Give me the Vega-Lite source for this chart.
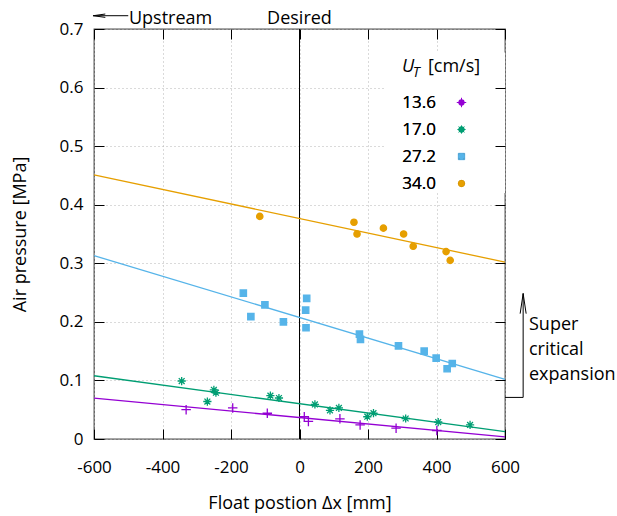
{
  "$schema": "https://vega.github.io/schema/vega-lite/v6.json",
  "width": 411,
  "height": 410,
  "autosize": {"type": "none"},
  "padding": {"left": 94, "top": 29, "right": 112, "bottom": 77},
  "background": "white",
  "config": {
    "font": "Open Sans",
    "view": {"stroke": "#505050", "strokeWidth": 1.3},
    "axis": {
      "labelFont": "Open Sans",
      "labelFontSize": 17,
      "labelColor": "black",
      "labelFlush": false,
      "titleFont": "Open Sans",
      "titleFontSize": 18,
      "titleFontWeight": "normal",
      "titleColor": "black",
      "tickColor": "black",
      "tickWidth": 1,
      "tickSize": -10,
      "domain": false,
      "gridColor": "#b4b4b4",
      "gridDash": [1, 3],
      "gridWidth": 1
    },
    "legend": {
      "orient": "none",
      "legendX": 287,
      "legendY": 65,
      "labelFont": "Open Sans",
      "labelFontSize": 17,
      "labelColor": "black",
      "labelAlign": "right",
      "labelOffset": -34,
      "symbolOffset": 72,
      "symbolSize": 40,
      "symbolStrokeWidth": 1,
      "rowPadding": 9,
      "labelLimit": 0
    }
  },
  "datasets": {
    "measured": [
      {"U": "13.6", "x": -331, "p": 0.050},
      {"U": "13.6", "x": -195, "p": 0.053},
      {"U": "13.6", "x": -94, "p": 0.044},
      {"U": "13.6", "x": 14, "p": 0.038},
      {"U": "13.6", "x": 26, "p": 0.030},
      {"U": "13.6", "x": 118, "p": 0.0345},
      {"U": "13.6", "x": 177, "p": 0.024},
      {"U": "13.6", "x": 282, "p": 0.0185},
      {"U": "13.6", "x": 401, "p": 0.0145},
      {"U": "17.0", "x": -344, "p": 0.099},
      {"U": "17.0", "x": -269, "p": 0.064},
      {"U": "17.0", "x": -250, "p": 0.084},
      {"U": "17.0", "x": -244, "p": 0.079},
      {"U": "17.0", "x": -85, "p": 0.074},
      {"U": "17.0", "x": -60, "p": 0.070},
      {"U": "17.0", "x": 45, "p": 0.059},
      {"U": "17.0", "x": 89, "p": 0.049},
      {"U": "17.0", "x": 115, "p": 0.053},
      {"U": "17.0", "x": 198, "p": 0.038},
      {"U": "17.0", "x": 216, "p": 0.044},
      {"U": "17.0", "x": 310, "p": 0.035},
      {"U": "17.0", "x": 405, "p": 0.029},
      {"U": "17.0", "x": 498, "p": 0.024},
      {"U": "27.2", "x": -164, "p": 0.249},
      {"U": "27.2", "x": -142, "p": 0.209},
      {"U": "27.2", "x": -101, "p": 0.229},
      {"U": "27.2", "x": -47, "p": 0.200},
      {"U": "27.2", "x": 18, "p": 0.220},
      {"U": "27.2", "x": 21, "p": 0.240},
      {"U": "27.2", "x": 19, "p": 0.190},
      {"U": "27.2", "x": 175, "p": 0.179},
      {"U": "27.2", "x": 178, "p": 0.170},
      {"U": "27.2", "x": 289, "p": 0.159},
      {"U": "27.2", "x": 364, "p": 0.150},
      {"U": "27.2", "x": 399, "p": 0.138},
      {"U": "27.2", "x": 431, "p": 0.120},
      {"U": "27.2", "x": 446, "p": 0.129},
      {"U": "34.0", "x": -116, "p": 0.380},
      {"U": "34.0", "x": 159, "p": 0.370},
      {"U": "34.0", "x": 168, "p": 0.350},
      {"U": "34.0", "x": 245, "p": 0.360},
      {"U": "34.0", "x": 304, "p": 0.350},
      {"U": "34.0", "x": 332, "p": 0.329},
      {"U": "34.0", "x": 428, "p": 0.320},
      {"U": "34.0", "x": 440, "p": 0.305}
    ],
    "fits": [
      {"U": "13.6", "x": -600, "p": 0.0697},
      {"U": "13.6", "x": 600, "p": 0.0035},
      {"U": "17.0", "x": -600, "p": 0.108},
      {"U": "17.0", "x": 600, "p": 0.0125},
      {"U": "27.2", "x": -600, "p": 0.313},
      {"U": "27.2", "x": 600, "p": 0.102},
      {"U": "34.0", "x": -600, "p": 0.451},
      {"U": "34.0", "x": 600, "p": 0.302}
    ],
    "single": [{}]
  },
  "layer": [
    {
      "layer": [
        {
          "data": {"name": "single"},
          "mark": {"type": "rect", "fill": "white"},
          "encoding": {
            "x": {"datum": 250, "type": "quantitative", "scale": {"domain": [-600, 600], "nice": false}},
            "x2": {"datum": 600},
            "y": {"datum": 0.42, "type": "quantitative", "scale": {"domain": [0, 0.7], "nice": false}},
            "y2": {"datum": 0.66}
          }
        },
        {
          "data": {"name": "single"},
          "mark": {"type": "rule", "color": "black", "strokeWidth": 1},
          "encoding": {
            "x": {"datum": 0, "type": "quantitative", "scale": {"domain": [-600, 600], "nice": false}}
          }
        },
        {
          "data": {"name": "fits"},
          "mark": {"type": "line", "strokeWidth": 1.3},
          "encoding": {
            "x": {"field": "x", "type": "quantitative", "scale": {"domain": [-600, 600], "nice": false}},
            "y": {"field": "p", "type": "quantitative", "scale": {"domain": [0, 0.7], "nice": false}},
            "color": {
              "field": "U",
              "type": "nominal",
              "scale": {"domain": ["13.6", "17.0", "27.2", "34.0"], "range": ["#9400d3", "#009e73", "#56b4e9", "#e69f00"]},
              "legend": null
            }
          }
        },
        {
          "data": {"name": "measured"},
          "mark": {"type": "point", "filled": true, "size": 40, "strokeWidth": 1.3, "opacity": 1},
          "encoding": {
            "x": {
              "field": "x",
              "type": "quantitative",
              "scale": {"domain": [-600, 600], "nice": false},
              "axis": {
                "title": "Float postion Δx [mm]",
                "values": [-600, -400, -200, 0, 200, 400, 600],
                "labelExpr": "'' + datum.value",
                "labelPadding": 30,
                "titlePadding": 19,
                "grid": true
              }
            },
            "y": {
              "field": "p",
              "type": "quantitative",
              "scale": {"domain": [0, 0.7], "nice": false},
              "axis": {
                "title": "Air pressure [MPa]",
                "values": [0, 0.1, 0.2, 0.3, 0.4, 0.5, 0.6, 0.7],
                "labelExpr": "datum.value == 0 ? '0' : format(datum.value, '.1f')",
                "labelPadding": 21,
                "titlePadding": 30,
                "grid": true
              }
            },
            "color": {
              "field": "U",
              "type": "nominal",
              "title": null,
              "scale": {"domain": ["13.6", "17.0", "27.2", "34.0"], "range": ["#9400d3", "#009e73", "#56b4e9", "#e69f00"]}
            },
            "stroke": {
              "field": "U",
              "type": "nominal",
              "title": null,
              "scale": {"domain": ["13.6", "17.0", "27.2", "34.0"], "range": ["#9400d3", "#009e73", "#56b4e9", "#e69f00"]}
            },
            "shape": {
              "field": "U",
              "type": "nominal",
              "title": null,
              "scale": {
                "domain": ["13.6", "17.0", "27.2", "34.0"],
                "range": [
                  "M-1.5,0L1.5,0M0,-1.5L0,1.5",
                  "M-1.3,0L1.3,0M0,-1.3L0,1.3M-0.92,-0.92L0.92,0.92M-0.92,0.92L0.92,-0.92",
                  "square",
                  "circle"
                ]
              }
            }
          }
        },
        {
          "data": {"name": "single"},
          "mark": {"type": "text", "text": "Upstream", "align": "left", "baseline": "alphabetic", "font": "Open Sans", "fontSize": 18, "color": "black"},
          "encoding": {
            "x": {"datum": -498, "type": "quantitative", "scale": {"domain": [-600, 600], "nice": false}},
            "y": {"datum": 0.7085, "type": "quantitative", "scale": {"domain": [0, 0.7], "nice": false}}
          }
        },
        {
          "data": {"name": "single"},
          "mark": {"type": "rule", "color": "black", "strokeWidth": 1},
          "encoding": {
            "x": {"datum": -603, "type": "quantitative", "scale": {"domain": [-600, 600], "nice": false}},
            "x2": {"datum": -500},
            "y": {"datum": 0.7227, "type": "quantitative", "scale": {"domain": [0, 0.7], "nice": false}}
          }
        },
        {
          "data": {"name": "single"},
          "mark": {"type": "point", "shape": "M1,-0.28L-1,0L1,0.28", "size": 144, "filled": false, "stroke": "black", "strokeWidth": 1, "opacity": 1},
          "encoding": {
            "x": {"datum": -584.5, "type": "quantitative", "scale": {"domain": [-600, 600], "nice": false}},
            "y": {"datum": 0.7227, "type": "quantitative", "scale": {"domain": [0, 0.7], "nice": false}}
          }
        },
        {
          "data": {"name": "single"},
          "mark": {"type": "text", "text": "Desired", "align": "center", "baseline": "alphabetic", "font": "Open Sans", "fontSize": 18, "color": "black"},
          "encoding": {
            "x": {"datum": 0, "type": "quantitative", "scale": {"domain": [-600, 600], "nice": false}},
            "y": {"datum": 0.7085, "type": "quantitative", "scale": {"domain": [0, 0.7], "nice": false}}
          }
        },
        {
          "data": {"name": "single"},
          "mark": {"type": "text", "text": ["Super", "critical", "expansion"], "lineHeight": 25, "align": "left", "baseline": "alphabetic", "font": "Open Sans", "fontSize": 18, "color": "black"},
          "encoding": {
            "x": {"datum": 670, "type": "quantitative", "scale": {"domain": [-600, 600], "nice": false}},
            "y": {"datum": 0.1855, "type": "quantitative", "scale": {"domain": [0, 0.7], "nice": false}}
          }
        },
        {
          "data": {"name": "single"},
          "mark": {"type": "rule", "color": "black", "strokeWidth": 1},
          "encoding": {
            "x": {"datum": 653, "type": "quantitative", "scale": {"domain": [-600, 600], "nice": false}},
            "y": {"datum": 0.071, "type": "quantitative", "scale": {"domain": [0, 0.7], "nice": false}},
            "y2": {"datum": 0.249}
          }
        },
        {
          "data": {"name": "single"},
          "mark": {"type": "rule", "color": "black", "strokeWidth": 1},
          "encoding": {
            "x": {"datum": 600, "type": "quantitative", "scale": {"domain": [-600, 600], "nice": false}},
            "x2": {"datum": 653},
            "y": {"datum": 0.071, "type": "quantitative", "scale": {"domain": [0, 0.7], "nice": false}}
          }
        },
        {
          "data": {"name": "single"},
          "mark": {"type": "point", "shape": "M-0.3,1L0,-1L0.3,1", "size": 400, "filled": false, "stroke": "black", "strokeWidth": 1, "opacity": 1},
          "encoding": {
            "x": {"datum": 653, "type": "quantitative", "scale": {"domain": [-600, 600], "nice": false}},
            "y": {"datum": 0.2311, "type": "quantitative", "scale": {"domain": [0, 0.7], "nice": false}}
          }
        },
        {
          "data": {"name": "single"},
          "mark": {"type": "text", "text": "U", "align": "left", "baseline": "alphabetic", "font": "Open Sans", "fontSize": 18, "fontStyle": "italic", "color": "black"},
          "encoding": {
            "x": {"datum": 299, "type": "quantitative", "scale": {"domain": [-600, 600], "nice": false}},
            "y": {"datum": 0.6265, "type": "quantitative", "scale": {"domain": [0, 0.7], "nice": false}}
          }
        },
        {
          "data": {"name": "single"},
          "mark": {"type": "text", "text": "T", "align": "left", "baseline": "alphabetic", "font": "Open Sans", "fontSize": 14, "fontStyle": "italic", "color": "black"},
          "encoding": {
            "x": {"datum": 331, "type": "quantitative", "scale": {"domain": [-600, 600], "nice": false}},
            "y": {"datum": 0.618, "type": "quantitative", "scale": {"domain": [0, 0.7], "nice": false}}
          }
        },
        {
          "data": {"name": "single"},
          "mark": {"type": "text", "text": "[cm/s]", "align": "left", "baseline": "alphabetic", "font": "Open Sans", "fontSize": 18, "color": "black"},
          "encoding": {
            "x": {"datum": 375, "type": "quantitative", "scale": {"domain": [-600, 600], "nice": false}},
            "y": {"datum": 0.6265, "type": "quantitative", "scale": {"domain": [0, 0.7], "nice": false}}
          }
        }
      ],
      "resolve": {"scale": {"color": "independent"}}
    },
    {
      "data": {"name": "measured"},
      "mark": {"type": "point", "opacity": 0},
      "encoding": {
        "x": {
          "field": "x",
          "type": "quantitative",
          "scale": {"domain": [-600, 600], "nice": false},
          "axis": {"orient": "top", "labels": false, "title": null, "grid": false, "values": [-600, -400, -200, 0, 200, 400, 600], "zindex": 1}
        },
        "y": {
          "field": "p",
          "type": "quantitative",
          "scale": {"domain": [0, 0.7], "nice": false},
          "axis": {"orient": "right", "labels": false, "title": null, "grid": false, "values": [0, 0.1, 0.2, 0.3, 0.4, 0.5, 0.6, 0.7], "zindex": 1}
        }
      }
    }
  ],
  "resolve": {"axis": {"x": "independent", "y": "independent"}}
}
